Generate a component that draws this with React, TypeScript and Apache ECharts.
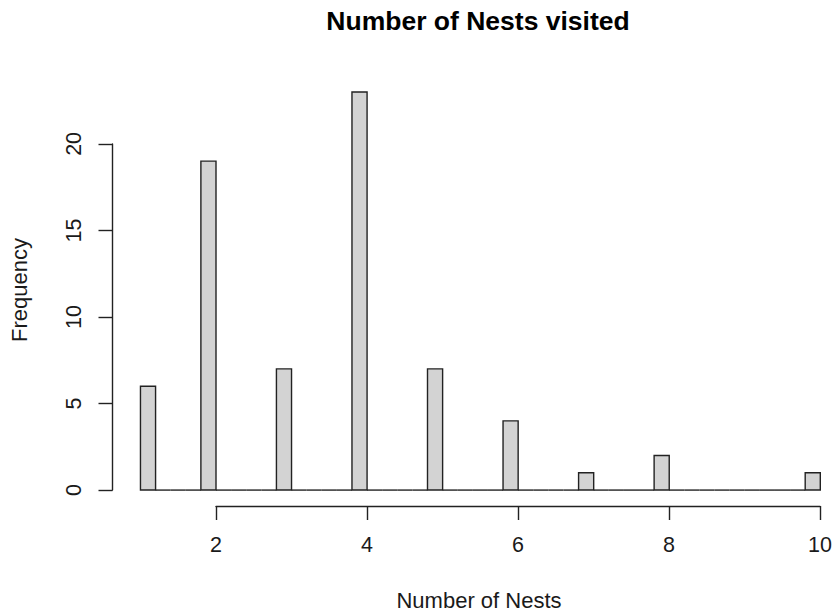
import React, { useEffect, useRef } from "react";
import * as echarts from "echarts";

// Data (R hist with 0.2-wide bins)
const nestCounts = [1, 2, 3, 4, 5, 6, 7, 8, 9, 10];
const frequency = [6, 19, 7, 23, 7, 4, 1, 2, 0, 1];
const breakStart = 1;
const breakEnd = 10;
const binWidth = 0.2;
const xTicks = [2, 4, 6, 8, 10];
const yTicks = [0, 5, 10, 15, 20];

const titleText = "Number of Nests visited";
const xLabel = "Number of Nests";
const yLabel = "Frequency";

const FONT = "'Liberation Sans', Arial, Helvetica, sans-serif";
const INK = "#222222";

function buildBins() {
  const n = Math.round((breakEnd - breakStart) / binWidth);
  const counts = new Array(n).fill(0);
  nestCounts.forEach((v, i) => {
    const idx = v === breakStart ? 0 : Math.round((v - breakStart) / binWidth) - 1;
    counts[idx] += frequency[i];
  });
  return counts.map((c, i) => {
    const lo = breakStart + i * binWidth;
    return [lo, lo + binWidth, c];
  });
}

export default function App() {
  const ref = useRef<HTMLDivElement>(null);
  useEffect(() => {
    if (!ref.current) return;
    const chart = echarts.init(ref.current, null, { renderer: "svg" });
    const bins = buildBins();
    const maxCount = Math.max(...frequency);
    const xPad = (breakEnd - breakStart) * 0.04;
    const yPad = maxCount * 0.04;
    // plot region (R style): x from breakStart - xPad, ~75.5 px per unit; cropped at right edge
    const unitPx = (820.3 - 216) / (xTicks[xTicks.length - 1] - xTicks[0]);
    const plotLeft = 216 - (xTicks[0] - (breakStart - xPad)) * unitPx;
    const plotWidth = 835 - plotLeft;
    const xMin = breakStart - xPad;
    const xMax = xMin + plotWidth / unitPx;

    const option: any = {
      animation: false,
      backgroundColor: "#ffffff",
      textStyle: { fontFamily: FONT },
      grid: [
        { left: plotLeft, top: 76, width: plotWidth, height: 430 },
        { left: 216, top: 76, width: 604.3, height: 430 },
        { left: 112.5, top: 143.9, width: 700, height: 346.2 },
      ],
      xAxis: [
        { gridIndex: 0, type: "value", min: xMin, max: xMax, show: false },
        {
          gridIndex: 1,
          type: "value",
          min: xTicks[0],
          max: xTicks[xTicks.length - 1],
          interval: 2,
          position: "bottom",
          axisLine: { show: true, lineStyle: { color: INK, width: 1.4 } },
          axisTick: { show: true, length: 14, lineStyle: { color: INK, width: 1.4 } },
          axisLabel: { color: "#1a1a1a", fontSize: 21.5, fontFamily: FONT, margin: 28 },
          splitLine: { show: false },
        },
        { gridIndex: 2, type: "value", min: 0, max: 1, show: false },
      ],
      yAxis: [
        { gridIndex: 0, type: "value", min: -yPad, max: maxCount + yPad, show: false },
        { gridIndex: 1, type: "value", min: 0, max: 1, show: false },
        {
          gridIndex: 2,
          type: "value",
          min: yTicks[0],
          max: yTicks[yTicks.length - 1],
          interval: 5,
          position: "left",
          axisLine: { show: true, lineStyle: { color: INK, width: 1.4 } },
          axisTick: { show: true, length: 14, lineStyle: { color: INK, width: 1.4 } },
          axisLabel: { color: "#1a1a1a", fontSize: 21.5, fontFamily: FONT, margin: 28, rotate: 90 },
          splitLine: { show: false },
        },
      ],
      graphic: [
        {
          type: "text",
          x: 478,
          y: 21,
          style: {
            text: titleText,
            fontSize: 26.5,
            fontWeight: "bold",
            fontFamily: FONT,
            fill: "#000",
            align: "center",
            verticalAlign: "middle",
          },
        },
        {
          type: "text",
          x: 479,
          y: 600,
          style: {
            text: xLabel,
            fontSize: 22,
            fontFamily: FONT,
            fill: "#1a1a1a",
            align: "center",
            verticalAlign: "middle",
          },
        },
        {
          type: "text",
          x: 19,
          y: 290,
          rotation: Math.PI / 2,
          style: {
            text: yLabel,
            fontSize: 22,
            fontFamily: FONT,
            fill: "#1a1a1a",
            align: "center",
            verticalAlign: "middle",
          },
        },
      ],
      series: [
        {
          type: "custom",
          xAxisIndex: 0,
          yAxisIndex: 0,
          data: bins,
          encode: { x: [0, 1], y: 2 },
          renderItem: (params: any, api: any) => {
            const x0 = api.value(0);
            const x1 = api.value(1);
            const c = api.value(2);
            const pTop = api.coord([x0, c]);
            const pBot = api.coord([x1, 0]);
            if (c === 0) {
              return {
                type: "line",
                shape: { x1: pTop[0], y1: pBot[1], x2: pBot[0], y2: pBot[1] },
                style: { stroke: INK, lineWidth: 1.4 },
              };
            }
            return {
              type: "rect",
              shape: {
                x: pTop[0],
                y: pTop[1],
                width: pBot[0] - pTop[0],
                height: pBot[1] - pTop[1],
              },
              style: { fill: "#D3D3D3", stroke: INK, lineWidth: 1.4 },
            };
          },
        },
      ],
    };
    chart.setOption(option);
    return () => chart.dispose();
  }, []);
  return (
    <div
      ref={ref}
      style={{ position: "fixed", left: 0, top: 0, width: 835, height: 615, background: "#fff" }}
    />
  );
}
